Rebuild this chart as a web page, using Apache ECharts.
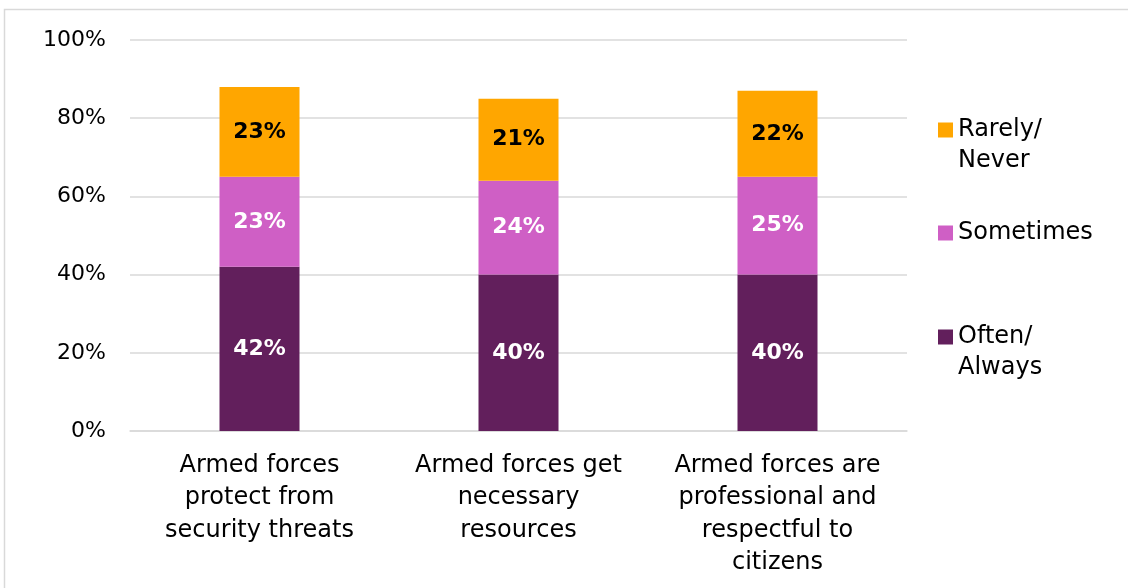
<!DOCTYPE html>
<html>
<head>
<meta charset="utf-8">
<script src="https://cdn.jsdelivr.net/npm/echarts@6/dist/echarts.min.js"></script>
<style>
  html, body { margin: 0; padding: 0; background: #ffffff; }
  #chart { width: 1128px; height: 588px; }
</style>
</head>
<body>
<div id="chart"></div>
<script>
// Survey statements (x-axis categories)
const categories = [
  'Armed forces\nprotect from\nsecurity threats',
  'Armed forces get\nnecessary\nresources',
  'Armed forces are\nprofessional and\nrespectful to\ncitizens'
];
// Share of respondents (%) per answer
const oftenAlways = [42, 40, 40];
const sometimes = [23, 24, 25];
const rarelyNever = [23, 21, 22];
// Y-axis tick values
const yTicks = [0, 20, 40, 60, 80, 100];

const FONT = 'DejaVu Sans';
const colors = { rarely: '#FFA600', sometimes: '#CF5FC5', often: '#621F5C' };

const chart = echarts.init(document.getElementById('chart'));

function labelFor(color) {
  return {
    show: true,
    position: 'inside',
    formatter: p => p.value + '%',
    color: color,
    fontFamily: FONT,
    fontWeight: 'bold',
    fontSize: 22
  };
}

// One legend per answer so each marker can sit level with the first text line.
// Two-line names get a blank leading line, which centres the marker on "Rarely/" / "Often/".
const LEGEND_LINE = 31;
function legendAt(name, iconCenterY) {
  const twoLine = name.indexOf('\n') >= 0;
  const lines = twoLine ? 3 : 1;
  return {
    data: [name],
    formatter: n => (n.indexOf('\n') >= 0 ? ' \n' + n : n),
    orient: 'vertical',
    left: 938,
    top: iconCenterY - lines * LEGEND_LINE / 2,
    padding: 0,
    itemWidth: 15,
    itemHeight: 15,
    itemGap: 6,
    icon: 'rect',
    selectedMode: false,
    textStyle: {
      fontFamily: FONT,
      fontSize: 24,
      color: '#000000',
      lineHeight: LEGEND_LINE
    }
  };
}

chart.setOption({
  animation: false,
  textStyle: { fontFamily: FONT },
  graphic: [{
    type: 'rect',
    shape: { x: 4.5, y: 9.5, width: 1200, height: 700 },
    style: { fill: 'none', stroke: '#d9d9d9', lineWidth: 1.5 },
    silent: true,
    z: -1
  }],
  legend: [
    legendAt('Rarely/\nNever', 130),
    legendAt('Sometimes', 233),
    legendAt('Often/\nAlways', 337)
  ],
  grid: { left: 130, right: 221, top: 40, bottom: 157 },
  xAxis: {
    type: 'category',
    data: categories,
    axisLine: { show: true, lineStyle: { color: '#d9d9d9', width: 1.5 } },
    axisTick: { show: false },
    axisLabel: {
      interval: 0,
      margin: 18,
      fontFamily: FONT,
      fontSize: 24,
      color: '#000000',
      lineHeight: 32.6
    }
  },
  yAxis: {
    type: 'value',
    min: yTicks[0],
    max: yTicks[yTicks.length - 1],
    interval: 20,
    axisLine: { show: false },
    axisTick: { show: false },
    splitLine: { lineStyle: { color: '#d9d9d9', width: 1.5 } },
    axisLabel: {
      margin: 24,
      fontFamily: FONT,
      fontSize: 22,
      color: '#000000',
      formatter: v => v + '%'
    }
  },
  series: [
    {
      name: 'Often/\nAlways',
      type: 'bar',
      stack: 'total',
      barWidth: 80,
      data: oftenAlways,
      itemStyle: { color: colors.often },
      label: labelFor('#ffffff')
    },
    {
      name: 'Sometimes',
      type: 'bar',
      stack: 'total',
      barWidth: 80,
      data: sometimes,
      itemStyle: { color: colors.sometimes },
      label: labelFor('#ffffff')
    },
    {
      name: 'Rarely/\nNever',
      type: 'bar',
      stack: 'total',
      barWidth: 80,
      data: rarelyNever,
      itemStyle: { color: colors.rarely },
      label: labelFor('#000000')
    }
  ]
});
</script>
</body>
</html>
